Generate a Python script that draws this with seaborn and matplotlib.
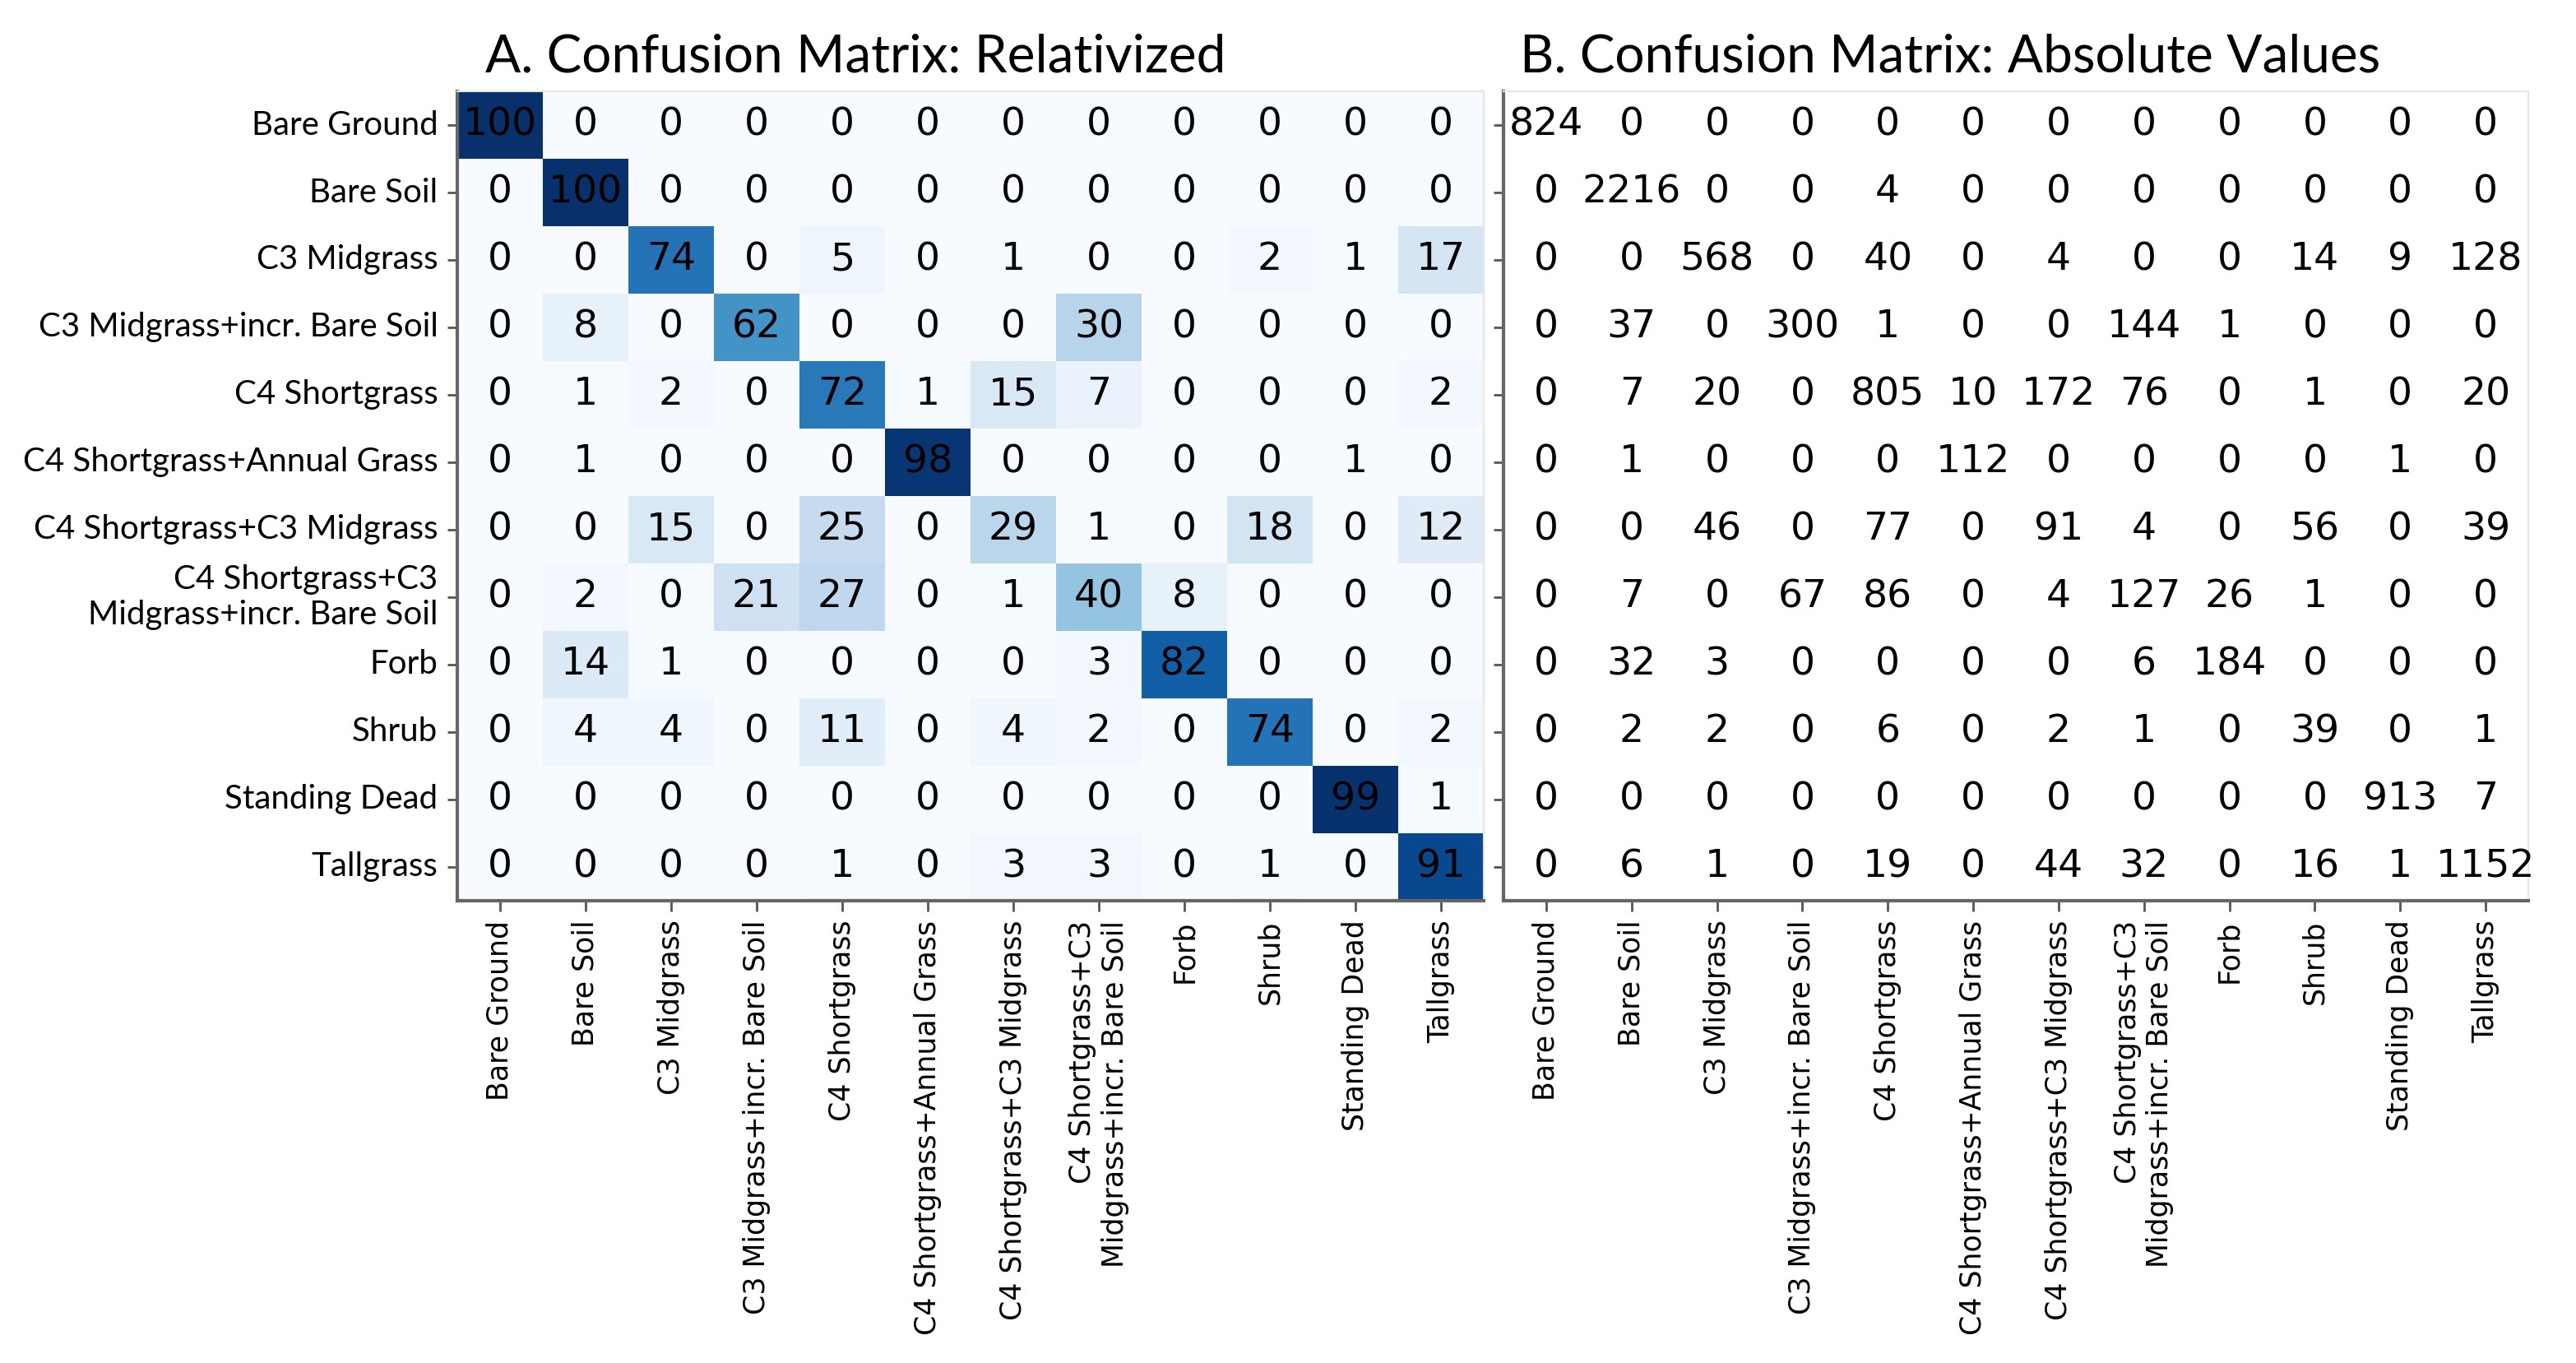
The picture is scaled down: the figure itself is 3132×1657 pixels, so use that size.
import numpy as np
import pandas as pd
import matplotlib
matplotlib.use("Agg")
import matplotlib.pyplot as plt
import seaborn as sns
from matplotlib.colors import ListedColormap

classes = ["Bare Ground", "Bare Soil", "C3 Midgrass", "C3 Midgrass+incr. Bare Soil",
           "C4 Shortgrass", "C4 Shortgrass+Annual Grass", "C4 Shortgrass+C3 Midgrass",
           "C4 Shortgrass+C3\nMidgrass+incr. Bare Soil", "Forb", "Shrub",
           "Standing Dead", "Tallgrass"]

# relativized (percent of each reference class)
rel_bare_ground = [100, 0, 0, 0, 0, 0, 0, 0, 0, 0, 0, 0]
rel_bare_soil = [0, 100, 0, 0, 0, 0, 0, 0, 0, 0, 0, 0]
rel_c3_mid = [0, 0, 74, 0, 5, 0, 1, 0, 0, 2, 1, 17]
rel_c3_mid_bare = [0, 8, 0, 62, 0, 0, 0, 30, 0, 0, 0, 0]
rel_c4_short = [0, 1, 2, 0, 72, 1, 15, 7, 0, 0, 0, 2]
rel_c4_annual = [0, 1, 0, 0, 0, 98, 0, 0, 0, 0, 1, 0]
rel_c4_c3 = [0, 0, 15, 0, 25, 0, 29, 1, 0, 18, 0, 12]
rel_c4_c3_bare = [0, 2, 0, 21, 27, 0, 1, 40, 8, 0, 0, 0]
rel_forb = [0, 14, 1, 0, 0, 0, 0, 3, 82, 0, 0, 0]
rel_shrub = [0, 4, 4, 0, 11, 0, 4, 2, 0, 74, 0, 2]
rel_dead = [0, 0, 0, 0, 0, 0, 0, 0, 0, 0, 99, 1]
rel_tall = [0, 0, 0, 0, 1, 0, 3, 3, 0, 1, 0, 91]

# absolute counts
abs_bare_ground = [824, 0, 0, 0, 0, 0, 0, 0, 0, 0, 0, 0]
abs_bare_soil = [0, 2216, 0, 0, 4, 0, 0, 0, 0, 0, 0, 0]
abs_c3_mid = [0, 0, 568, 0, 40, 0, 4, 0, 0, 14, 9, 128]
abs_c3_mid_bare = [0, 37, 0, 300, 1, 0, 0, 144, 1, 0, 0, 0]
abs_c4_short = [0, 7, 20, 0, 805, 10, 172, 76, 0, 1, 0, 20]
abs_c4_annual = [0, 1, 0, 0, 0, 112, 0, 0, 0, 0, 1, 0]
abs_c4_c3 = [0, 0, 46, 0, 77, 0, 91, 4, 0, 56, 0, 39]
abs_c4_c3_bare = [0, 7, 0, 67, 86, 0, 4, 127, 26, 1, 0, 0]
abs_forb = [0, 32, 3, 0, 0, 0, 0, 6, 184, 0, 0, 0]
abs_shrub = [0, 2, 2, 0, 6, 0, 2, 1, 0, 39, 0, 1]
abs_dead = [0, 0, 0, 0, 0, 0, 0, 0, 0, 0, 913, 7]
abs_tall = [0, 6, 1, 0, 19, 0, 44, 32, 0, 16, 1, 1152]

rel = pd.DataFrame([rel_bare_ground, rel_bare_soil, rel_c3_mid, rel_c3_mid_bare, rel_c4_short,
                    rel_c4_annual, rel_c4_c3, rel_c4_c3_bare, rel_forb, rel_shrub, rel_dead,
                    rel_tall], index=classes, columns=classes)
absv = pd.DataFrame([abs_bare_ground, abs_bare_soil, abs_c3_mid, abs_c3_mid_bare, abs_c4_short,
                     abs_c4_annual, abs_c4_c3, abs_c4_c3_bare, abs_forb, abs_shrub, abs_dead,
                     abs_tall], index=classes, columns=classes)

label_font = ["Lato", "DejaVu Sans"]

fig = plt.figure(figsize=(31.32, 16.57), dpi=100)
ax1 = fig.add_axes([556 / 3132, 1 - 1095 / 1657, 1248 / 3132, 984 / 1657])
ax2 = fig.add_axes([1828 / 3132, 1 - 1095 / 1657, 1246 / 3132, 984 / 1657])

sns.heatmap(rel, ax=ax1, cmap="Blues", vmin=0, vmax=100, cbar=False, annot=True, fmt="d",
            annot_kws={"color": "black", "fontsize": 34})
sns.heatmap(absv, ax=ax2, cmap=ListedColormap(["white"]), cbar=False, annot=True, fmt="d",
            annot_kws={"color": "black", "fontsize": 34})

for ax in (ax1, ax2):
    for side in ["left", "bottom"]:
        ax.spines[side].set_visible(True)
        ax.spines[side].set_color("#666666")
        ax.spines[side].set_linewidth(3)
    for side in ["top", "right"]:
        ax.spines[side].set_visible(True)
        ax.spines[side].set_color("#e6e6e6")
        ax.spines[side].set_linewidth(1.5)
    ax.tick_params(axis="both", length=9, width=2, color="#555555", pad=8)
    ax.set_xticklabels(classes, rotation=90, fontsize=25, multialignment="right")
    ax.set_xlabel("")
    ax.set_ylabel("")

ax1.set_yticklabels(classes, rotation=0, fontsize=29, family=label_font, multialignment="right")
ax2.set_yticklabels([])

fig.text(0.332, 0.958, "A. Confusion Matrix: Relativized", ha="center", va="center",
         fontsize=46, family=label_font)
fig.text(0.757, 0.958, "B. Confusion Matrix: Absolute Values", ha="center", va="center",
         fontsize=46, family=label_font)

fig.savefig("out.png", dpi=100, facecolor="white")
